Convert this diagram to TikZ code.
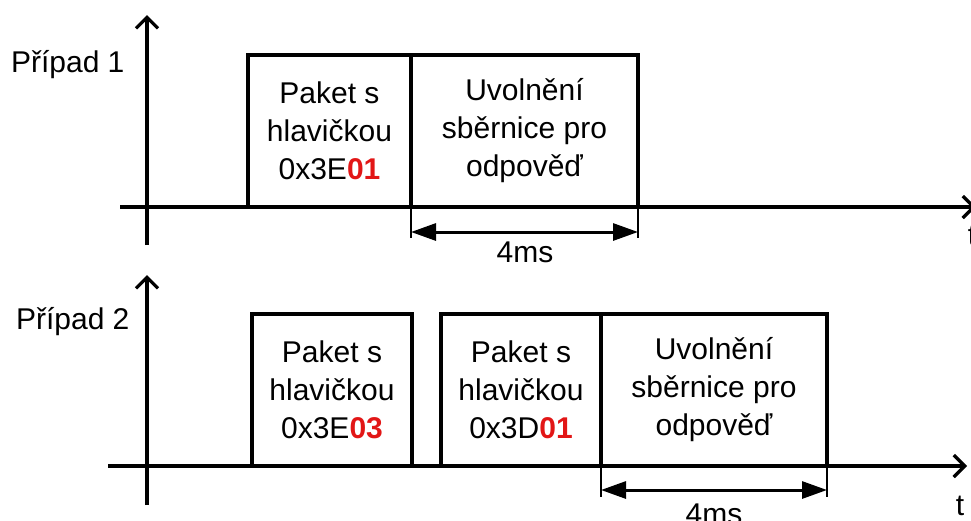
\documentclass[tikz,border=0pt]{standalone}
\usepackage{fontspec}
\setmainfont{Liberation Sans}
\usepackage{xcolor}
\usetikzlibrary{arrows.meta}
\usetikzlibrary{positioning}
\definecolor{hlred}{RGB}{226,22,22}
\newcommand{\hl}[1]{\textcolor{hlred}{\textbf{#1}}}

\begin{document}
\begin{tikzpicture}[x=1pt,y=-1pt,
		every node/.style={font=\fontsize{30}{38}\selectfont},
		axis/.style={line width=3.2pt,-{Straight Barb[length=11pt,width=22pt]}},
		frame/.style={draw,line width=3.2pt,outer sep=0pt,inner sep=0pt,align=center,minimum height=152pt},
		ext/.style={line width=1.3pt},
		dim/.style={line width=3pt,{Triangle[length=25pt,width=17pt]}-{Triangle[length=25pt,width=17pt]}}]
			\useasboundingbox (0,0) rectangle (971,520);
			
			% Případ 1
			\begin{scope}
				\coordinate (y1b) at (147,245);
				\coordinate (y1t) at (147,15);
				\coordinate (x1b) at (120,207);
				\coordinate (x1e) at (976,207);
				\draw[axis] (y1b) -- (y1t);
				\draw[axis] (x1b) -- (x1e);
				\node[anchor=base east] (lab1) at (128,72) {Případ 1};
				\node[anchor=base] (t1) at (972,245) {t};
				\node[frame,minimum width=163pt] (pak1) at (329.5,131) {Paket s\\hlavičkou\\0x3E\hl{01}};
				\node[frame,minimum width=227pt,right=0pt of pak1] (uvol1) {Uvolnění\\sběrnice pro\\odpověď};
				\coordinate (e1l) at ([yshift=-31pt]uvol1.south west);
				\coordinate (e1r) at ([yshift=-31pt]uvol1.south east);
				\draw[ext] (uvol1.south west) -- (e1l);
				\draw[ext] (uvol1.south east) -- (e1r);
				\coordinate (d1l) at ([yshift=-25pt]uvol1.south west);
				\coordinate (d1r) at ([yshift=-25pt]uvol1.south east);
				\draw[dim] (d1l) -- (d1r);
				\node[anchor=base] (ms1) at (525,262) {4ms};
			\end{scope}
			
			% Případ 2
			\begin{scope}[shift={(0,259)}]
				\coordinate (y2b) at (147,246);
				\coordinate (y2t) at (147,16);
				\coordinate (x2b) at (108,207);
				\coordinate (x2e) at (967,207);
				\draw[axis] (y2b) -- (y2t);
				\draw[axis] (x2b) -- (x2e);
				\node[anchor=base east] (lab2) at (133,70) {Případ 2};
				\node[anchor=base] (t2) at (960,256) {t};
				\node[frame,minimum width=160pt] (pak2a) at (332,131) {Paket s\\hlavičkou\\0x3E\hl{03}};
				\node[frame,minimum width=160pt] (pak2b) at (521,131) {Paket s\\hlavičkou\\0x3D\hl{01}};
				\node[frame,minimum width=226pt,right=0pt of pak2b] (uvol2) {Uvolnění\\sběrnice pro\\odpověď};
				\coordinate (e2l) at ([yshift=-31pt]uvol2.south west);
				\coordinate (e2r) at ([yshift=-31pt]uvol2.south east);
				\draw[ext] (uvol2.south west) -- (e2l);
				\draw[ext] (uvol2.south east) -- (e2r);
				\coordinate (d2l) at ([yshift=-24pt]uvol2.south west);
				\coordinate (d2r) at ([yshift=-24pt]uvol2.south east);
				\draw[dim] (d2l) -- (d2r);
				\node[anchor=base] (ms2) at (714,265) {4ms};
			\end{scope}
		\end{tikzpicture}
\end{document}
